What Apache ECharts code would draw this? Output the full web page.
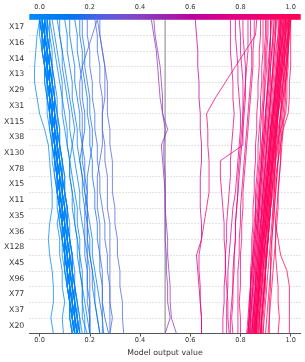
<!DOCTYPE html>
<html><head><meta charset="utf-8">
<script src="https://cdn.jsdelivr.net/npm/echarts@6/dist/echarts.min.js"></script>
<style>html,body{margin:0;padding:0;background:#fff}#c{width:305px;height:362px}</style>
</head><body><div id="c"></div>
<script>
// Features, top to bottom
const features = ['X17','X16','X14','X13','X29','X31','X115','X38','X130','X78','X15','X11','X35','X36','X128','X45','X96','X77','X37','X20'];
const xTickValues = [0, 0.2, 0.4, 0.6, 0.8, 1.0];
const baseValue = 0.5;
const xMin = -0.041, xMax = 1.04;

// Each line: cumulative model output (x100) at the 21 row boundaries, from the top (final output) down to the bottom
const blueLines = [
 [0,1,1,2,3,3,4,5,5,6,7,7,8,9,9,10,11,11,12,13,13],
 [1,1,2,3,3,4,5,5,6,7,7,8,9,9,10,11,11,12,13,13,14],
 [1,2,3,3,4,5,5,6,7,7,8,9,10,10,11,12,12,13,14,14,15],
 [2,2,3,4,4,5,6,6,7,8,8,9,10,10,11,12,12,13,14,15,15],
 [0,1,2,2,3,4,4,5,6,6,7,8,9,9,10,11,11,12,12,13,14],
 [2,3,3,4,5,5,6,7,7,8,9,9,10,11,12,12,13,14,14,15,16],
 [1,1,2,2,3,4,4,5,6,6,7,7,8,9,9,10,10,11,12,12,13],
 [3,3,4,5,5,6,7,7,8,9,9,10,11,11,12,13,13,14,15,15,16],
 [0,1,1,2,2,3,4,4,5,6,6,7,8,8,9,10,11,11,12,13,14],
 [2,2,3,3,4,5,5,6,6,7,8,8,9,10,10,11,12,12,13,14,14],
 [1,2,2,3,4,4,5,6,6,7,8,8,9,10,10,11,12,13,13,14,15],
 [3,4,4,5,6,6,7,8,8,9,10,10,11,12,12,13,14,14,15,16,17],
 [0,0,1,2,2,3,3,4,5,5,6,7,7,8,9,9,10,11,12,12,13],
 [2,3,4,4,5,6,6,7,8,9,9,10,11,11,12,13,13,14,15,16,16],
 [1,2,2,3,3,4,5,5,6,7,7,8,8,9,10,10,11,12,12,13,14],
 [4,4,5,5,6,7,7,8,8,9,10,10,11,11,12,13,13,14,14,15,16],
 [0,1,1,2,3,3,4,5,6,6,7,8,8,9,10,10,11,12,13,13,14],
 [2,2,3,4,5,5,6,7,7,8,9,9,10,10,11,12,13,13,14,15,15],
 [1,1,2,3,3,4,4,5,6,6,7,8,8,9,10,11,11,12,13,14,15],
 [3,3,4,4,5,6,6,7,7,8,9,9,10,11,11,12,12,13,14,14,15],
 [1,2,3,4,4,5,6,6,7,8,9,9,10,11,11,12,13,13,14,15,16],
 [2,2,3,3,4,4,5,6,6,7,7,8,9,9,10,10,11,12,12,13,14],
 [1,2,2,3,4,4,5,5,6,7,7,8,9,9,10,10,11,12,12,13,14],
 [2,2,3,3,4,5,5,6,7,7,8,8,9,10,10,11,11,12,13,13,14],
 [1,1,2,3,3,4,5,5,6,6,7,8,8,9,10,10,11,11,12,13,14],
 [2,3,3,4,4,5,6,6,7,8,8,9,9,10,11,11,12,13,13,14,15],
 [0,1,2,2,3,4,4,5,5,6,7,7,8,9,9,10,10,11,12,12,13],
 [3,3,4,5,5,6,6,7,8,8,9,10,10,11,11,12,13,13,14,14,15],
 [1,2,2,3,3,4,5,5,6,7,8,8,9,9,10,11,12,12,13,14,14],
 [2,2,3,4,4,5,5,6,7,7,8,9,9,10,11,11,12,12,13,14,15],
 [0,-1,-1.5,-2,-2,-1,0,2,3.5,4,4.5,5,5,4,3.5,4,5,5.5,5.5,4.5,5.5],
 [2,2,3,3,4,4,5,5,6,6,7,7,8,7,8,8,9,9,10,9,9.5],
 [4,5,6,7,8,9,9,10,11,12,12,13,14,14,15,16,16,17,17,18,18],
 [5,6,7,8,9,9,10,11,11,12,12,13,13,14,15,15,16,17,17,17,19],
 [7,8,9,9,10,11,12,12,13,14,15,16,16,17,18,18,19,19,20,20,20],
 [8,8,9,10,11,12,13,14,13,12,13,14,15,15,16,16,17,17,18,19,20],
 [10,11,11,12,13,13,14,15,15,16,17,17,18,19,19,20,21,21,22,23,24],
 [12,12,13,14,14,15,16,16,17,17,18,19,19,20,21,21,22,23,24,25,25.5],
 [14,15,15,16,17,17,18,18,17,16,17,18,19,19,20,20,21,22,22,23,24],
 [16,16,17,17,18,19,19,20,20,21,21,22,22,23,23,24,24,25,25,26,27.5],
 [19,19,20,20,21,21,22,22,23,23,24,24,25,26,26,27,27,28,28,29,28],
 [23,24,25,26,27,27,27,28,28,29,29,29,30,30,31,31,32,32,33,33,33.5],
 [24,24,25,26,26,26,25,25,26,26,27,27,27,28,28,28,28,28,28,28,28],
 [22,23,23,24,24,25,25,25,25,24,23,23,23,24,24,24,25,25,25,25,25],
 [23,21,19,17,16,16,17,17,17,18,18,18,19,19,19,19,20,20,20,20,20],
 [17,17,18,18,19,20,20,21,21,20,19,19,18,18,18,19,19,19,19,20,20]
];
const purpleLines = [
 [44.5,45.5,46.5,47,47.5,48,49,51,48.5,49,49.5,50,50,50.5,51,51,51.5,52,52,52.5,54.5],
 [45.5,46,47,48,48.5,49,49,50,49.5,49.5,50,50,50,50,50,50.5,50.5,51,51,52,50],
 [62,62.5,63,63,63.5,63.5,64,64,64.5,64.5,64,64,64,64.5,64.5,62.5,63,63.5,64,64.5,64.5]
];
const pinkLines = [
 [86.5,86,82,78,74,70,66.5,67,67,67.5,67.5,67.5,66.5,65.5,64.5,63.5,63.5,64,64,64.5,64.5],
 [76,76,76,76.5,77,77,77.5,77,76.5,76,76,75.5,75,74.5,74.5,74,74,73.5,73.5,73,73],
 [78,78,78.5,79,79,79.5,80,80,79.5,79,78.5,78,77,76.5,76,75.5,75,75,74.5,74.5,74.5],
 [79.5,80,80,80.5,81,81,81,81,81,72,72,72.5,73,73.5,73.5,74,74,74.5,75,75,75.5],
 [81,81,81.5,82,82,82,81.5,81,80.5,80,79.5,79,78.5,78,78,77.5,77,77,76.5,76,76],
 [83,83,83,82.5,82,81.5,81,80.5,80,79.5,79,79,78.5,78,78,77.5,77.5,77,77,76.5,77],
 [84,84,84.5,84.5,84,83.5,83,82.5,82,81.5,81,80.5,80,80,79.5,79.5,79,79,79,79,79],
 [85.5,85.5,85,85,84.5,84,83.5,83,82.5,82,81.5,81,81,80.5,80.5,80,80,80,79.5,80,80]
];
const redLines = [
 [100,99.5,99,98.5,98,97,96.5,96,95.5,95,94,93.5,93,92.5,92,91.5,91,90.5,90,89.5,89],
 [99,98.5,98,97,96.5,96,95,94.5,94,93,92.5,92,91.5,91,90,89.5,89,88.5,88,87.5,87],
 [98,97.5,97,96.5,96,95,94.5,94,93,92.5,92,91,90.5,90,89.5,89,88,87.5,87,86.5,86],
 [97,96.5,96,95,94.5,94,93.5,93,92.5,92,91,90.5,90,89.5,89,88.5,88,87.5,87,86.5,86.5],
 [96,95.5,95,94.5,94,93.5,93,92,91.5,91,90.5,90,89.5,89,88.5,88,87.5,87,86.5,86,85.5],
 [95,95,94.5,94,93.5,93,92.5,92,91.5,91,90.5,90,89.5,89,88.5,88,87.5,87,86.5,86,85],
 [94,93.5,93,93,92.5,92,91.5,91,90.5,90,89.5,89,88.5,88.5,88,87.5,87,86.5,86,85.5,85],
 [93,93,92.5,92,92,91.5,91,90.5,90,89.5,89,88.5,88,87.5,87,86.5,86,85.5,85,84.5,84],
 [92,92,91.5,91,91,90.5,90,89.5,89,88.5,88,87.5,87,86.5,86,85.5,85,84.5,84,83.5,83],
 [91,91,90.5,90.5,90,89.5,89,89,88.5,88,87.5,87,86.5,86,85.5,85,84.5,84,84,83.5,83],
 [90,90,89.5,89.5,89,89,88.5,88,88,87.5,87,86.5,86,86,85.5,85,84.5,84,83.5,83,82.5],
 [89,89,89,88.5,88.5,88,88,87.5,87,87,86.5,86,86,85.5,85,85,84.5,84,84,83.5,83],
 [99.5,99,98,97,96,95.5,95,94,93.5,93,92,91.5,91,90.5,90,89.5,89,88.5,88,87.5,88],
 [98.5,98,97.5,97,96,95.5,95,94.5,94,93.5,93,92.5,92,91.5,91,90,89.5,89,88.5,88,88.5],
 [97.5,97,96,95.5,95,94,93.5,93,92.5,92,91.5,91,90.5,90,89,88.5,88,87.5,87,86.5,86],
 [96.5,96,95.5,95,94,93.5,93,92.5,92,91.5,91,90,89.5,89,88.5,88,87.5,87.5,87,86.5,86],
 [95.5,95,94,93.5,93,92.5,92,91.5,91,90.5,90,89.5,89,88.5,88,87.5,87,86.5,86,85.5,85.5],
 [99.5,99,99,98.5,98,97.5,97,96.5,96,96,95.5,95,94.5,94,94,93.5,93,92.5,92,91.5,91.5],
 [99,99,98.5,98.5,98,98,97.5,97,96.5,96,95.5,95,95,94.5,94,94,94.5,95,95,95.5,95],
 [100,100,100,100,99.5,99.5,99,97,96,95,94.5,94,93.5,94,95,96,98.5,99.5,99.5,99.5,99.5],
 [98,98,97.5,97.5,97,96.5,96,95.5,95,95,94.5,94,93.5,93,92.5,92,92,91.5,91,90.5,90],
 [97,97,96.5,96,95.5,95,94.5,94,93.5,93,92.5,92,91.5,91,90.5,90,90,89.5,89,88.5,88],
 [96,95.5,95,94.5,94,93.5,92.5,92,91.5,91,90.5,90,89.5,89,88.5,88,87.5,87,86.5,86,86],
 [94.5,94,93.5,93,92.5,92,91.5,91,90.5,90,89.5,89,88.5,88,87.5,87,86.5,86,85.5,85,84.5],
 [93.5,93,92.5,92,91.5,91,90.5,90,89.5,89,88.5,88,87.5,87,86.5,86,85.5,85,84.5,84,83.5],
 [92.5,92,92,91.5,91,90.5,90,89.5,89,88.5,88,87.5,87,86.5,86,85.5,85,85,84.5,84,84],
 [100,99,98,97.5,97,96,95,94.5,93.5,93,92,91.5,90.5,90,89,88.5,88,87.5,87,86,85.5],
 [99,98,97,96,95,94.5,93.5,93,92,91.5,91,90,89.5,89,88,87.5,87,86.5,86,85.5,85],
 [98,97,96,95,94.5,93.5,93,92,91.5,91,90,89.5,89,88,87.5,87,86.5,86,85.5,85,84.5],
 [100,99.5,99,98,97.5,97,96,95.5,95,94,93.5,93,92,91.5,91,90.5,90,89.5,89,88.5,88],
 [96,96,95.5,95.5,95,95,94.5,94.5,94,94,93.5,93.5,93,93,92.5,92.5,92,92,91.5,91.5,91],
 [97,96.5,96,95.5,95,94.5,94,93.5,93,93,92.5,92,91.5,91,91,90.5,90,90,89.5,89,89],
 [90.5,90.5,90,90,89.5,89.5,89,89,88.5,88.5,88,87.5,87.5,87,87,86.5,86,86,85.5,85,84.5],
 [88,88,87.5,87.5,87,87,86.5,86.5,86,86,85.5,85.5,85,85,84.5,84.5,84,84,83.5,83.5,83],
 [99,99,99,99,98.5,98.5,98,96,94.5,93.5,93,92.5,92,91.5,91,90.5,90,89.5,89,88.5,88],
 [98.5,98,97.5,96.5,96,95.5,94.5,94,93.5,92.5,92,91.5,91,90.5,90,89,88.5,88,87.5,87,86.5],
 [97.5,97,96.5,96,95.5,94.5,94,93.5,93,92,91.5,91,90.5,90,89.5,89,88.5,88,87.5,87,87],
 [96.5,96,95.5,95,94.5,94,93,92.5,92,91.5,91,90.5,90,89.5,89,88.5,88,87.5,87,86.5,86.5],
 [99.5,99,98.5,98,97,96.5,96,95,94.5,94,93.5,92.5,92,91.5,91,90.5,90,89.5,89,88.5,88.5],
 [95.5,95.5,95,94.5,94,93.5,93,92.5,92,91.5,91,90.5,90,89.5,89,88.5,88,87.5,87,86.5,86],
 [94,94,93.5,93,92.5,92,91.5,91,90.5,90,89.5,89,88.5,88,87.5,87,86.5,86,85.5,85,84.5],
 [98,97.5,97,96.5,95.5,95,94.5,93.5,93,92.5,92,91.5,91,90.5,90,89.5,89,88.5,88,87.5,87.5],
 [92,92,91.5,91.5,91,90.5,90,90,89.5,89,88.5,88,87.5,87,86.5,86,85.5,85,84.5,84,83.5]
];

// SHAP red_blue colormap (LCH interpolation)
function lab2rgb(L, a, b) {
  const fy = (L + 16) / 116, fx = fy + a / 500, fz = fy - b / 200;
  const d = 6 / 29;
  const finv = t => t > d ? t * t * t : 3 * d * d * (t - 4 / 29);
  const X = 0.95047 * finv(fx), Y = finv(fy), Z = 1.08883 * finv(fz);
  let r = 3.2406 * X - 1.5372 * Y - 0.4986 * Z;
  let g = -0.9689 * X + 1.8758 * Y + 0.0415 * Z;
  let bl = 0.0557 * X - 0.2040 * Y + 1.0570 * Z;
  const gam = c => { c = c <= 0.0031308 ? 12.92 * c : 1.055 * Math.pow(c, 1 / 2.4) - 0.055; return Math.round(Math.max(0, Math.min(1, c)) * 255); };
  return [gam(r), gam(g), gam(bl)];
}
function cmap(t) {
  t = Math.max(0, Math.min(1, t));
  const L = t < 0.5 ? 54 + (40 - 54) * (t / 0.5) : 40 + (54 - 40) * ((t - 0.5) / 0.5);
  const C = 70 + 20 * t;
  const H = 4.6588 + (0.35470565 + 2 * Math.PI - 4.6588) * t;
  const c = lab2rgb(L, C * Math.cos(H), C * Math.sin(H));
  return 'rgb(' + c.join(',') + ')';
}

const W = 305, H = 362;
const gridLeft = 29.3, gridRight = 4.3, gridTop = 19.4, gridBottom = 25.3;
const nRows = features.length;
const font = 'DejaVu Sans';

const series = [];
series.push({
  type: 'line', xAxisIndex: 0, yAxisIndex: 0, symbol: 'none', silent: true, z: 1,
  data: [[baseValue, 0], [baseValue, nRows]],
  lineStyle: { color: '#a0a0a0', width: 1.3 }
});
const allLines = [].concat(blueLines, purpleLines, pinkLines, redLines);
allLines.forEach(arr => {
  const top = arr[0] / 100;
  series.push({
    type: 'line', xAxisIndex: 0, yAxisIndex: 0, symbol: 'none', silent: true, z: 2,
    data: arr.map((v, k) => [v / 100, nRows - k]),
    lineStyle: { color: cmap((top - xMin) / (xMax - xMin)), width: 1, opacity: 0.75 }
  });
});

const stops = [];
for (let i = 0; i <= 20; i++) stops.push({ offset: i / 20, color: cmap(i / 20) });

const chart = echarts.init(document.getElementById('c'), null, { renderer: 'canvas' });
chart.setOption({
  animation: false,
  backgroundColor: '#ffffff',
  grid: { left: gridLeft, right: gridRight, top: gridTop, bottom: gridBottom, containLabel: false },
  xAxis: [
    {
      type: 'value', min: xMin, max: xMax, position: 'bottom',
      name: 'Model output value', nameLocation: 'middle', nameGap: 11,
      nameTextStyle: { fontFamily: font, fontSize: 7.8, color: '#333' },
      axisLine: { show: true, lineStyle: { color: '#555', width: 1 } },
      axisTick: { show: true, length: 3, customValues: xTickValues, lineStyle: { color: '#555' } },
      axisLabel: { customValues: xTickValues, margin: 3.5, fontFamily: font, fontSize: 6.6, color: '#333', formatter: v => v.toFixed(1) },
      splitLine: { show: false }
    },
    {
      type: 'value', min: xMin, max: xMax, position: 'top',
      axisLine: { show: false }, axisTick: { show: false },
      axisLabel: { customValues: xTickValues, margin: 9, fontFamily: font, fontSize: 6.6, color: '#333', formatter: v => v.toFixed(1) },
      splitLine: { show: false }
    }
  ],
  yAxis: [
    {
      type: 'value', min: 0, max: nRows, interval: 1,
      axisLine: { show: false }, axisTick: { show: false }, axisLabel: { show: false },
      splitLine: { show: true, lineStyle: { color: '#c8c8c8', width: 0.7, type: [1.5, 1.5] } }
    },
    {
      type: 'category', data: features, inverse: true, position: 'left', boundaryGap: true,
      axisLine: { show: false }, axisTick: { show: false }, splitLine: { show: false },
      axisLabel: { margin: 5, fontFamily: font, fontSize: 7.8, color: '#333', interval: 0 }
    }
  ],
  graphic: [{
    type: 'rect', z: 100, silent: true,
    shape: { x: gridLeft, y: 14, width: W - gridLeft - gridRight, height: gridTop - 14 + 0.3 },
    style: { fill: new echarts.graphic.LinearGradient(0, 0, 1, 0, stops) }
  }],
  series: series
});
</script>
</body></html>
